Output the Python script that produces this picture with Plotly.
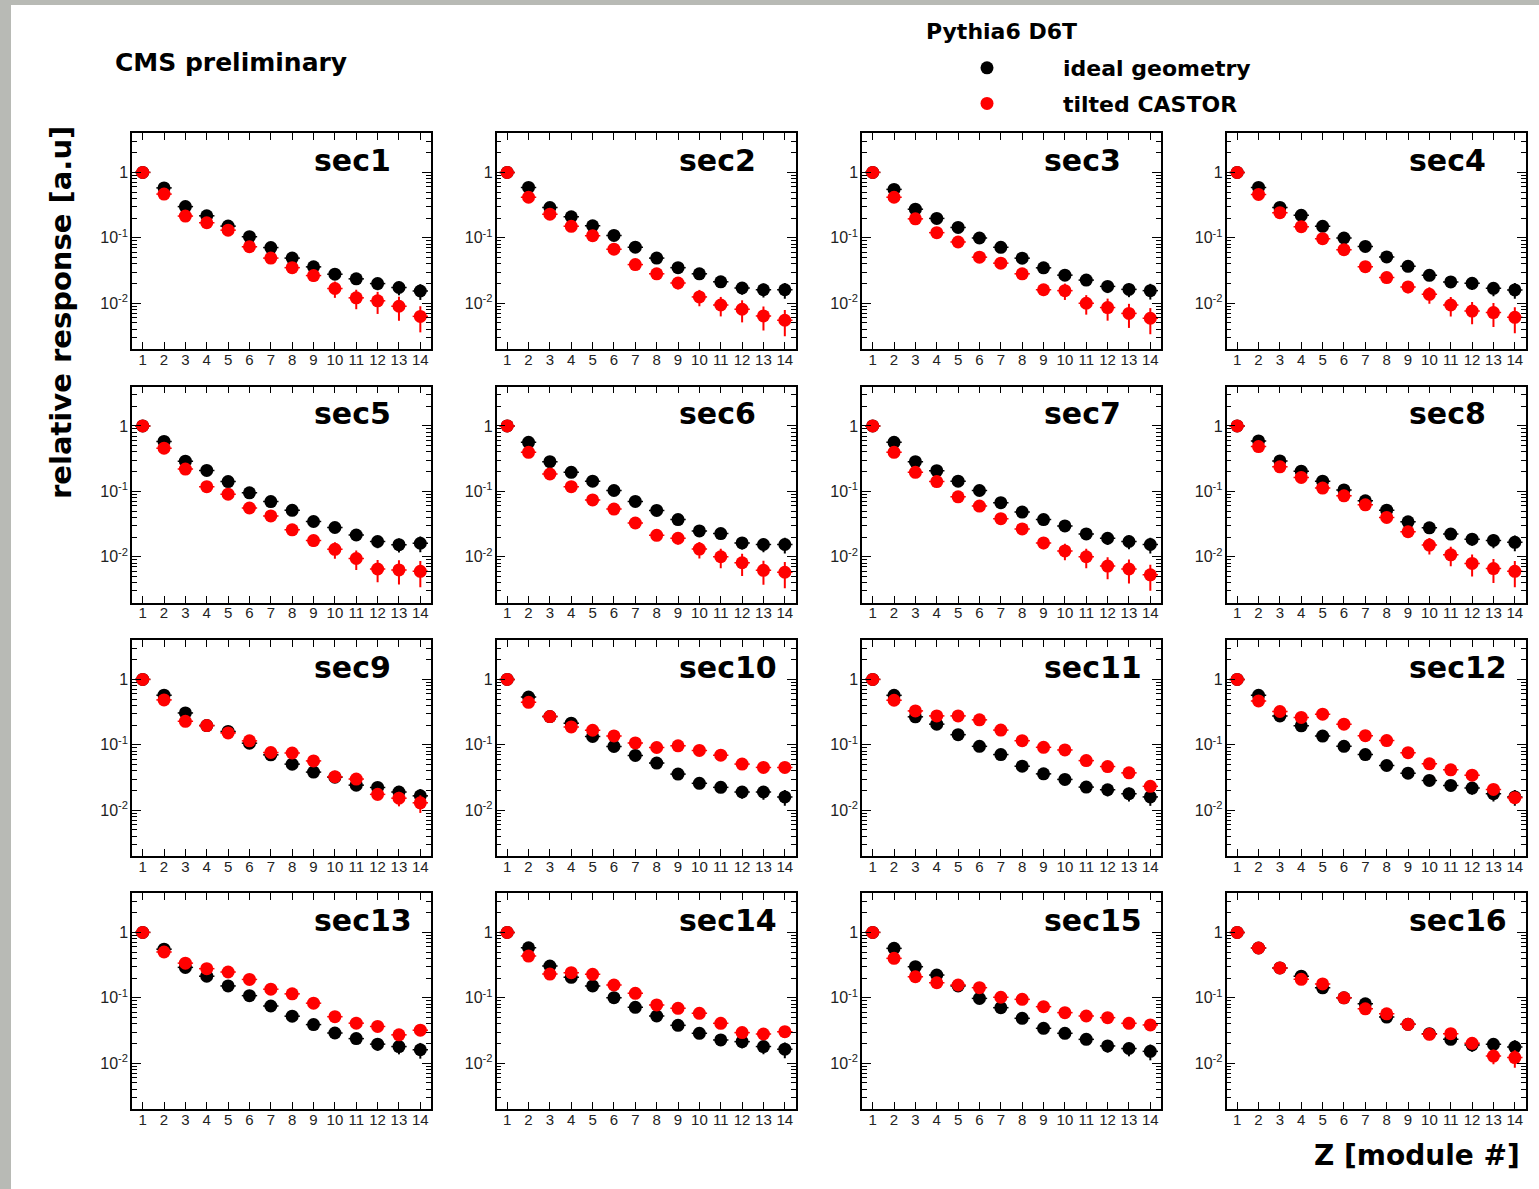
import math
import plotly.graph_objects as go

# CASTOR longitudinal response per module, normalised to module 1
modules = list(range(1, 15))
sectors = [f"sec{i}" for i in range(1, 17)]

sec1_ideal = [1.0, 0.58, 0.30, 0.217, 0.151, 0.104, 0.071, 0.049, 0.036, 0.0278, 0.0236, 0.020, 0.0174, 0.0154]
sec1_tilted = [1.0, 0.466, 0.215, 0.17, 0.131, 0.073, 0.049, 0.035, 0.0265, 0.0168, 0.0121, 0.0109, 0.009, 0.0063]
sec2_ideal = [1.0, 0.59, 0.29, 0.21, 0.153, 0.109, 0.072, 0.049, 0.035, 0.0282, 0.0213, 0.0171, 0.0161, 0.0161]
sec2_tilted = [1.0, 0.417, 0.23, 0.15, 0.108, 0.067, 0.039, 0.0282, 0.0204, 0.0125, 0.0094, 0.0081, 0.0064, 0.0055]
sec3_ideal = [1.0, 0.55, 0.274, 0.198, 0.144, 0.0994, 0.0717, 0.0489, 0.0348, 0.0269, 0.0226, 0.0181, 0.0163, 0.0156]
sec3_tilted = [1.0, 0.417, 0.195, 0.12, 0.0864, 0.0506, 0.041, 0.0282, 0.0161, 0.0156, 0.0100, 0.0086, 0.0070, 0.0059]
sec4_ideal = [1.0, 0.59, 0.292, 0.221, 0.15, 0.0994, 0.074, 0.051, 0.0367, 0.0267, 0.0212, 0.0202, 0.0169, 0.016]
sec4_tilted = [1.0, 0.461, 0.242, 0.148, 0.097, 0.066, 0.0363, 0.0247, 0.0178, 0.0137, 0.0094, 0.0076, 0.0072, 0.0061]
sec5_ideal = [1.0, 0.58, 0.289, 0.209, 0.141, 0.095, 0.0698, 0.0512, 0.0346, 0.028, 0.0215, 0.0171, 0.0153, 0.0161]
sec5_tilted = [1.0, 0.457, 0.219, 0.118, 0.0906, 0.0556, 0.0421, 0.0258, 0.0177, 0.013, 0.0094, 0.0065, 0.0063, 0.006]
sec6_ideal = [1.0, 0.56, 0.284, 0.195, 0.143, 0.103, 0.070, 0.051, 0.037, 0.0248, 0.0226, 0.0163, 0.0154, 0.0154]
sec6_tilted = [1.0, 0.394, 0.184, 0.118, 0.074, 0.0536, 0.0328, 0.0213, 0.0192, 0.0131, 0.0100, 0.0081, 0.0062, 0.0058]
sec7_ideal = [1.0, 0.56, 0.284, 0.207, 0.143, 0.103, 0.067, 0.0482, 0.037, 0.0296, 0.0223, 0.0192, 0.0171, 0.0154]
sec7_tilted = [1.0, 0.394, 0.195, 0.141, 0.0825, 0.0595, 0.0382, 0.0266, 0.0163, 0.0123, 0.0100, 0.0072, 0.0065, 0.0053]
sec8_ideal = [1.0, 0.59, 0.292, 0.203, 0.143, 0.105, 0.0716, 0.0515, 0.0342, 0.0277, 0.0222, 0.0186, 0.0178, 0.0166]
sec8_tilted = [1.0, 0.483, 0.237, 0.163, 0.112, 0.0854, 0.0622, 0.0399, 0.0241, 0.0151, 0.0107, 0.0079, 0.0066, 0.006]
sec9_ideal = [1.0, 0.573, 0.307, 0.197, 0.16, 0.106, 0.0703, 0.0507, 0.0383, 0.032, 0.0242, 0.0223, 0.019, 0.0166]
sec9_tilted = [1.0, 0.486, 0.229, 0.197, 0.152, 0.115, 0.0763, 0.075, 0.0568, 0.0325, 0.030, 0.0175, 0.0153, 0.013]
sec10_ideal = [1.0, 0.538, 0.27, 0.214, 0.134, 0.0944, 0.0688, 0.0526, 0.0357, 0.0258, 0.0224, 0.019, 0.019, 0.016]
sec10_tilted = [1.0, 0.447, 0.27, 0.188, 0.167, 0.137, 0.107, 0.091, 0.0966, 0.082, 0.0696, 0.0508, 0.0452, 0.0452]
sec11_ideal = [1.0, 0.571, 0.268, 0.207, 0.143, 0.0948, 0.071, 0.0471, 0.036, 0.0296, 0.0226, 0.0206, 0.0179, 0.016]
sec11_tilted = [1.0, 0.48, 0.33, 0.277, 0.277, 0.241, 0.168, 0.1157, 0.0916, 0.0835, 0.0574, 0.0466, 0.0373, 0.0232]
sec12_ideal = [1.0, 0.571, 0.277, 0.195, 0.136, 0.0948, 0.071, 0.0483, 0.0369, 0.0286, 0.024, 0.0218, 0.0179, 0.016]
sec12_tilted = [1.0, 0.469, 0.323, 0.262, 0.294, 0.207, 0.138, 0.116, 0.076, 0.0512, 0.0415, 0.0344, 0.0208, 0.0156]
sec13_ideal = [1.0, 0.554, 0.292, 0.214, 0.152, 0.108, 0.075, 0.0524, 0.039, 0.029, 0.0238, 0.0196, 0.018, 0.0161]
sec13_tilted = [1.0, 0.502, 0.339, 0.279, 0.248, 0.191, 0.1355, 0.115, 0.0828, 0.0515, 0.041, 0.0365, 0.0272, 0.032]
sec14_ideal = [1.0, 0.583, 0.306, 0.206, 0.152, 0.1006, 0.0716, 0.0528, 0.038, 0.0287, 0.0227, 0.0214, 0.018, 0.0164]
sec14_tilted = [1.0, 0.435, 0.231, 0.242, 0.229, 0.157, 0.117, 0.0778, 0.0691, 0.058, 0.0408, 0.0294, 0.028, 0.0304]
sec15_ideal = [1.0, 0.57, 0.299, 0.223, 0.152, 0.098, 0.0707, 0.0486, 0.0342, 0.0287, 0.0232, 0.0184, 0.0168, 0.0152]
sec15_tilted = [1.0, 0.401, 0.21, 0.17, 0.157, 0.143, 0.102, 0.0948, 0.0733, 0.0594, 0.0528, 0.0498, 0.0408, 0.0385]
sec16_ideal = [1.0, 0.577, 0.286, 0.214, 0.142, 0.1, 0.081, 0.0508, 0.0393, 0.0283, 0.0232, 0.019, 0.0195, 0.0177]
sec16_tilted = [1.0, 0.577, 0.286, 0.192, 0.163, 0.1, 0.068, 0.057, 0.0393, 0.0277, 0.0283, 0.0202, 0.0129, 0.0122]

# relative statistical uncertainty per module
ideal_relerr = [0.01, 0.02, 0.03, 0.04, 0.05, 0.06, 0.08, 0.10, 0.12, 0.15, 0.18, 0.21, 0.24, 0.27]
tilted_relerr_low = [0.01, 0.02, 0.04, 0.05, 0.07, 0.09, 0.12, 0.15, 0.20, 0.28, 0.33, 0.37, 0.40, 0.43]
tilted_relerr_same = [0.01, 0.02, 0.03, 0.04, 0.05, 0.06, 0.07, 0.08, 0.10, 0.13, 0.16, 0.20, 0.25, 0.30]
tilted_relerr_high = [0.01, 0.02, 0.03, 0.03, 0.04, 0.04, 0.05, 0.06, 0.07, 0.08, 0.10, 0.12, 0.14, 0.18]
tilted_err_class = ["low"] * 8 + ["same"] + ["high"] * 6 + ["same"]

ideal_series = [sec1_ideal, sec2_ideal, sec3_ideal, sec4_ideal, sec5_ideal, sec6_ideal, sec7_ideal, sec8_ideal,
                sec9_ideal, sec10_ideal, sec11_ideal, sec12_ideal, sec13_ideal, sec14_ideal, sec15_ideal, sec16_ideal]
tilted_series = [sec1_tilted, sec2_tilted, sec3_tilted, sec4_tilted, sec5_tilted, sec6_tilted, sec7_tilted, sec8_tilted,
                 sec9_tilted, sec10_tilted, sec11_tilted, sec12_tilted, sec13_tilted, sec14_tilted, sec15_tilted, sec16_tilted]
tilted_relerr = {"low": tilted_relerr_low, "same": tilted_relerr_same, "high": tilted_relerr_high}

series_names = ["ideal geometry", "tilted CASTOR"]
series_colors = ["#000000", "#ff0000"]

y_tickvals = [1, 0.1, 0.01]
y_ticktext = ["1", "10<sup>-1</sup>", "10<sup>-2</sup>"]

# ---- page geometry (pixels) ----
W, H = 1539, 1189
col_left = [132, 496.5, 862, 1226.5]
row_top = [133, 386.5, 640, 893]
pw, ph = 299, 216

BOLD = "DejaVu Sans"
TICKFONT = "Liberation Sans"


def px_x(x):
    return x / W


def px_y(y):
    return 1 - y / H


minor_vals = [m * 10 ** e for e in (-3, -2, -1, 0) for m in range(2, 10) if 0.002 <= m * 10 ** e <= 4]

fig = go.Figure()
annotations = []

for k in range(16):
    r, c = divmod(k, 4)
    idx = k + 1
    xname = "x" if idx == 1 else f"x{idx}"
    yname = "y" if idx == 1 else f"y{idx}"
    xkey = "xaxis" if idx == 1 else f"xaxis{idx}"
    ykey = "yaxis" if idx == 1 else f"yaxis{idx}"

    left, top = col_left[c], row_top[r]
    fig.layout[xkey] = dict(
        domain=[px_x(left), px_x(left + pw)], anchor=yname,
        range=[0.5, 14.5], tickmode="array", tickvals=modules,
        ticks="inside", ticklen=7, tickwidth=1, tickcolor="#000",
        showline=True, linecolor="#000", linewidth=1.5, mirror="ticks",
        showgrid=False, zeroline=False, ticklabelstandoff=-4,
        tickfont=dict(family=TICKFONT, size=15, color="#222"),
    )
    fig.layout[ykey] = dict(
        domain=[px_y(top + ph), px_y(top)], anchor=xname,
        type="log", range=[math.log10(0.002), math.log10(4)],
        tickmode="array", tickvals=y_tickvals, ticktext=y_ticktext,
        ticks="inside", ticklen=9, tickwidth=1, tickcolor="#000",
        minor=dict(tickmode="array", tickvals=minor_vals, ticks="inside", ticklen=5, tickwidth=1, tickcolor="#000"),
        showline=True, linecolor="#000", linewidth=1.5, mirror="ticks",
        showgrid=False, zeroline=False, ticklabelstandoff=-1,
        tickfont=dict(family=TICKFONT, size=16, color="#222"),
    )

    errs = [ideal_relerr, tilted_relerr[tilted_err_class[k]]]
    for s, vals in enumerate([ideal_series[k], tilted_series[k]]):
        fig.add_trace(go.Scatter(
            x=modules, y=vals, mode="markers", xaxis=xname, yaxis=yname,
            name=series_names[s], legendgroup=series_names[s], showlegend=(k == 0),
            marker=dict(symbol="circle", size=13, color=series_colors[s]),
            error_y=dict(type="data", array=[v * e for v, e in zip(vals, errs[s])],
                         color=series_colors[s], thickness=2, width=0),
            error_x=dict(type="constant", value=0.36, color=series_colors[s], thickness=1.5, width=0),
        ))

    annotations.append(dict(
        text=sectors[k], xref="paper", yref="paper",
        x=px_x(left + 180), y=px_y(top + 27), xanchor="left", yanchor="middle",
        showarrow=False, font=dict(family=BOLD, size=30, color="#000", weight="bold"),
    ))

annotations += [
    dict(text="CMS preliminary", xref="paper", yref="paper", x=px_x(113), y=px_y(63),
         xanchor="left", yanchor="middle", showarrow=False,
         font=dict(family=BOLD, size=25, color="#000", weight="bold")),
    dict(text="Pythia6 D6T", xref="paper", yref="paper", x=px_x(924), y=px_y(32),
         xanchor="left", yanchor="middle", showarrow=False,
         font=dict(family=BOLD, size=22, color="#000", weight="bold")),
    dict(text="relative response [a.u]", xref="paper", yref="paper", x=px_x(61), y=px_y(313),
         xanchor="center", yanchor="middle", textangle=-90, showarrow=False,
         font=dict(family=BOLD, size=29, color="#000", weight="bold")),
    dict(text="Z [module #]", xref="paper", yref="paper", x=px_x(1522), y=px_y(1155),
         xanchor="right", yanchor="middle", showarrow=False,
         font=dict(family=BOLD, size=28, color="#000", weight="bold")),
]

# grey page frame on the top and left edges
shapes = [
    dict(type="rect", xref="paper", yref="paper", x0=0, x1=px_x(11), y0=0, y1=1,
         fillcolor="#b8bab5", line=dict(width=0), layer="below"),
    dict(type="rect", xref="paper", yref="paper", x0=0, x1=1, y0=px_y(5), y1=1,
         fillcolor="#b8bab5", line=dict(width=0), layer="below"),
]

fig.update_layout(
    width=W, height=H, margin=dict(l=0, r=0, t=0, b=0),
    paper_bgcolor="#ffffff", plot_bgcolor="#ffffff",
    annotations=annotations, shapes=shapes,
    showlegend=True,
    legend=dict(
        x=px_x(911), y=px_y(47), xanchor="left", yanchor="top",
        bgcolor="rgba(0,0,0,0)", borderwidth=0,
        font=dict(family=BOLD, size=22, color="#000", weight="bold"),
        itemwidth=142, tracegroupgap=4,
    ),
)

fig.write_html("out.html")
